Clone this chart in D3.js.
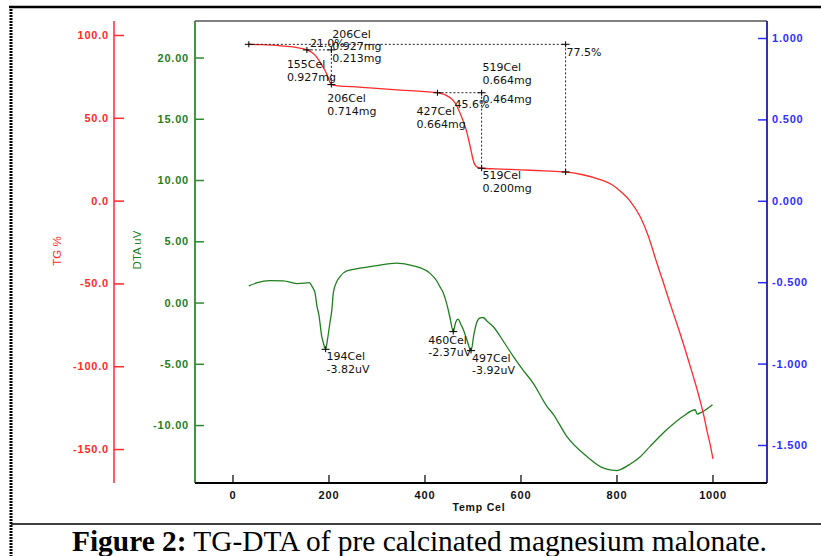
<!DOCTYPE html>
<html><head><meta charset="utf-8">
<script src="https://cdn.jsdelivr.net/npm/d3@7/dist/d3.min.js"></script>
<style>
html,body{margin:0;padding:0;background:#fff;}
svg{display:block;}
</style></head>
<body>
<svg id="chart" width="821" height="556"></svg>
<script>
// ---------------- DATA ----------------
const xTicks = [0, 200, 400, 600, 800, 1000];
const tgPctTicks = [100, 50, 0, -50, -100, -150];
const dtaTicks = [20, 15, 10, 5, 0, -5, -10];
const mgTicks = [1.0, 0.5, 0.0, -0.5, -1.0, -1.5];

// TG curve: temperature (Cel), mass (mg)
const tgTemp = [34,60,90,120,140,155,165,172,178,185,192,198,202,206,215,250,300,350,400,427,440,450,460,468,474,480,486,492,497,501,505,510,519,560,600,650,694,730,766,790,807,828,849,865,884,898,911,925,939,953,964,974,982,988,995,1001];
const tgMass = [0.961,0.959,0.955,0.947,0.938,0.927,0.912,0.895,0.872,0.840,0.805,0.767,0.736,0.714,0.708,0.701,0.690,0.680,0.671,0.664,0.655,0.640,0.615,0.578,0.539,0.495,0.445,0.375,0.310,0.255,0.222,0.207,0.200,0.195,0.190,0.184,0.177,0.160,0.130,0.100,0.062,0.000,-0.095,-0.205,-0.381,-0.505,-0.625,-0.748,-0.875,-1.010,-1.118,-1.225,-1.320,-1.405,-1.495,-1.586];

// DTA curve: temperature (Cel), signal (uV)
const dtaTemp = [34,50,78,106,134,150,160,166,172,176,180,186,190,194,198,203,207,210,216,224,238,266,300,342,377,411,425,432,439,446,453,460,465,470,476,481,488,497,503,509,516,522,530,543,565,585,603,626,655,668,696,738,772,790,800,810,828,849,870,905,939,964,968,977,1000];
const dtaVal = [1.36,1.60,1.79,1.77,1.55,1.58,1.63,1.30,0.79,-0.30,-1.00,-2.77,-3.40,-3.82,-3.00,-1.65,-0.60,0.77,1.60,2.12,2.58,2.80,3.02,3.21,2.99,2.40,1.80,1.30,0.80,-0.05,-1.20,-2.37,-1.60,-1.35,-1.80,-2.22,-3.00,-3.92,-2.60,-1.60,-1.25,-1.22,-1.50,-1.96,-3.20,-4.40,-5.40,-6.55,-8.47,-9.10,-10.90,-12.55,-13.50,-13.68,-13.72,-13.60,-13.20,-12.60,-11.74,-10.37,-9.28,-8.75,-9.10,-8.96,-8.34];

// TG analysis steps: [startTemp, startMass, endTemp, endMass]
const tgSteps = [
  [155, 0.927, 206, 0.714],
  [427, 0.664, 519, 0.200],
  [34, 0.961, 694, 0.177]
];
// TG annotation texts with anchor (temp, mass)
const tgLabelAnchor = [[155,0.927],[206,0.927],[206,0.714],[427,0.664],[519,0.664],[519,0.664],[519,0.200],[155,0.927],[427,0.664],[694,0.961]];
const tgLabelText = [
  ["155Cel","0.927mg"],
  ["206Cel","0.927mg","0.213mg"],
  ["206Cel","0.714mg"],
  ["427Cel","0.664mg"],
  ["519Cel","0.664mg"],
  ["0.464mg"],
  ["519Cel","0.200mg"],
  ["21.0%"],
  ["45.6%"],
  ["77.5%"]
];
// DTA peaks
const dtaPeakTemp = [194, 460, 497];
const dtaPeakVal = [-3.82, -2.37, -3.92];
const dtaLabelText = [["194Cel","-3.82uV"],["460Cel","-2.37uV"],["497Cel","-3.92uV"]];

// ---------------- LAYOUT ----------------
const tgLabelOffset = [[-20,14,13],[1,-16,12],[-4,14,13],[-21,18,13],[1,-26,13],[1,6,13],[1,7,13],[3,-7,13],[17,11,13],[1,8,13]];
const dtaLabelOffset = [[1,7,13],[-25,9,12],[1,8,12]];

const L = 195, R = 767, T = 21, B = 483;
const svg = d3.select("#chart");

const loc = d3.formatLocale({decimal:".", thousands:",", grouping:[3], currency:["",""], minus:"-"});

const x = d3.scaleLinear().domain([-78.1, 1113.6]).range([L, R]);
const yPct = d3.scaleLinear().domain([-170.5, 108.45]).range([B, T]);
const yDta = d3.scaleLinear().domain([-14.73, 22.98]).range([B, T]);
const yMg = d3.scaleLinear().domain([-1.7335, 1.1044]).range([B, T]);

const RED = "#ff2a2a", GREEN = "#1f7f1f", GREENAX = "#2f8a2f", BLUE = "#2e2eff", BLUEAX = "#1c1ca8";
const tickFont = "'Liberation Sans', Arial, sans-serif";

// Outer frame
svg.append("line").attr("x1",9).attr("x2",821).attr("y1",7).attr("y2",7).attr("stroke","#000").attr("stroke-width",2.5);
svg.append("line").attr("x1",11).attr("x2",11).attr("y1",6).attr("y2",556).attr("stroke","#000").attr("stroke-width",3).attr("stroke-dasharray","2,1");
svg.append("line").attr("x1",11).attr("x2",821).attr("y1",524).attr("y2",524).attr("stroke","#000").attr("stroke-width",1.5);

// plot frame top
svg.append("line").attr("x1",L).attr("x2",R).attr("y1",T).attr("y2",T).attr("stroke","#555").attr("stroke-width",1.5);

function styleAxis(g, color, lineColor){
  g.select(".domain").remove();
  g.selectAll(".tick line").attr("stroke", lineColor).attr("stroke-width",1.5);
  g.selectAll(".tick text").attr("fill", color).attr("font-family", tickFont)
    .attr("font-size", 11).attr("font-weight","bold").attr("letter-spacing","0.8px");
}

// Red TG% axis
const gRed = svg.append("g").attr("transform",`translate(114,0)`)
  .call(d3.axisRight(yPct).tickValues(tgPctTicks).tickSize(10).tickFormat(loc.format(".1f")));
styleAxis(gRed, RED, RED);
gRed.selectAll(".tick text").attr("x",-5).attr("text-anchor","end");
svg.append("line").attr("x1",114).attr("x2",114).attr("y1",T).attr("y2",B).attr("stroke",RED).attr("stroke-width",1.5);

// Green DTA axis
const gGreen = svg.append("g").attr("transform",`translate(${L},0)`)
  .call(d3.axisRight(yDta).tickValues(dtaTicks).tickSize(9).tickFormat(loc.format(".2f")));
styleAxis(gGreen, GREEN, GREENAX);
gGreen.selectAll(".tick text").attr("x",-6).attr("text-anchor","end");
svg.append("line").attr("x1",L).attr("x2",L).attr("y1",T).attr("y2",B).attr("stroke",GREENAX).attr("stroke-width",1.8);

// Blue mg axis
const gBlue = svg.append("g").attr("transform",`translate(${R},0)`)
  .call(d3.axisLeft(yMg).tickValues(mgTicks).tickSize(9).tickFormat(loc.format(".3f")));
styleAxis(gBlue, BLUE, BLUE);
gBlue.selectAll(".tick text").attr("x",5).attr("text-anchor","start");
svg.append("line").attr("x1",R).attr("x2",R).attr("y1",T).attr("y2",B).attr("stroke",BLUEAX).attr("stroke-width",1.8);

// X axis
const gX = svg.append("g").attr("transform",`translate(0,${B})`)
  .call(d3.axisTop(x).tickValues(xTicks).tickSize(8).tickFormat(d3.format("d")));
styleAxis(gX, "#111", "#333");
gX.selectAll(".tick text").attr("y",12).attr("dy","0.35em");
svg.append("line").attr("x1",L).attr("x2",R).attr("y1",B).attr("y2",B).attr("stroke","#000").attr("stroke-width",1.8);

// Axis titles
svg.append("text").attr("x",479).attr("y",507).attr("dy","0.35em").attr("text-anchor","middle")
  .attr("font-family",tickFont).attr("font-size",10.5).attr("font-weight","bold").attr("letter-spacing","0.8px").attr("fill","#111").text("Temp Cel");
svg.append("text").attr("transform","translate(57,251) rotate(-90)").attr("dy","0.35em").attr("text-anchor","middle")
  .attr("font-family",tickFont).attr("font-size",11.5).attr("fill",RED).text("TG %");
svg.append("text").attr("transform","translate(137,250) rotate(-90)").attr("dy","0.35em").attr("text-anchor","middle")
  .attr("font-family",tickFont).attr("font-size",11.5).attr("fill",GREEN).text("DTA uV");

// Curves
const tgData = tgTemp.map((t,i)=>[t,tgMass[i]]);
const dtaData = dtaTemp.map((t,i)=>[t,dtaVal[i]]);
svg.append("path").datum(dtaData)
  .attr("d", d3.line().x(d=>x(d[0])).y(d=>yDta(d[1])).curve(d3.curveMonotoneX))
  .attr("fill","none").attr("stroke",GREEN).attr("stroke-width",1.3);
svg.append("path").datum(tgData)
  .attr("d", d3.line().x(d=>x(d[0])).y(d=>yMg(d[1])).curve(d3.curveMonotoneX))
  .attr("fill","none").attr("stroke",RED).attr("stroke-width",1.3);

// TG step dashed lines and crosses
const dash = svg.append("g").attr("stroke","#222").attr("stroke-width",1).attr("stroke-dasharray","2,2").attr("fill","none");
const crosses = [];
tgSteps.forEach(s=>{
  const [t1,m1,t2,m2] = s;
  dash.append("line").attr("x1",x(t1)).attr("x2",x(t2)).attr("y1",yMg(m1)).attr("y2",yMg(m1));
  dash.append("line").attr("x1",x(t2)).attr("x2",x(t2)).attr("y1",yMg(m1)).attr("y2",yMg(m2));
  crosses.push([x(t1),yMg(m1)],[x(t2),yMg(m1)],[x(t2),yMg(m2)]);
});
dtaPeakTemp.forEach((t,i)=>crosses.push([x(t),yDta(dtaPeakVal[i])]));
const cg = svg.append("g").attr("stroke","#111").attr("stroke-width",1.1);
crosses.forEach(([cx,cy])=>{
  cg.append("line").attr("x1",cx-4).attr("x2",cx+4).attr("y1",cy).attr("y2",cy);
  cg.append("line").attr("x1",cx).attr("x2",cx).attr("y1",cy-3).attr("y2",cy+3);
});

// Annotation labels
const annFont = "'DejaVu Sans', Verdana, sans-serif";
function addLabel(px, py, lines, off){
  const [dx, dy, lh] = off;
  lines.forEach((s,k)=>{
    svg.append("text").attr("x",px+dx).attr("y",py+dy+k*lh).attr("dy","0.35em")
      .attr("font-family",annFont).attr("font-size",11).attr("fill","#111").text(s);
  });
}
tgLabelText.forEach((lines,i)=>{
  const [t,m] = tgLabelAnchor[i];
  addLabel(x(t), yMg(m), lines, tgLabelOffset[i]);
});
dtaLabelText.forEach((lines,i)=>{
  addLabel(x(dtaPeakTemp[i]), yDta(dtaPeakVal[i]), lines, dtaLabelOffset[i]);
});

// Caption
const cap = svg.append("text").attr("x",72).attr("y",551)
  .attr("font-family","'Liberation Serif','Times New Roman',serif").attr("font-size",26).attr("fill","#000");
cap.append("tspan").attr("font-weight","bold").text("Figure 2:");
cap.append("tspan").text(" TG-DTA of pre calcinated magnesium malonate.");
const w = cap.node().getComputedTextLength();
cap.attr("font-size", 26*695/w);
</script>
</body></html>
